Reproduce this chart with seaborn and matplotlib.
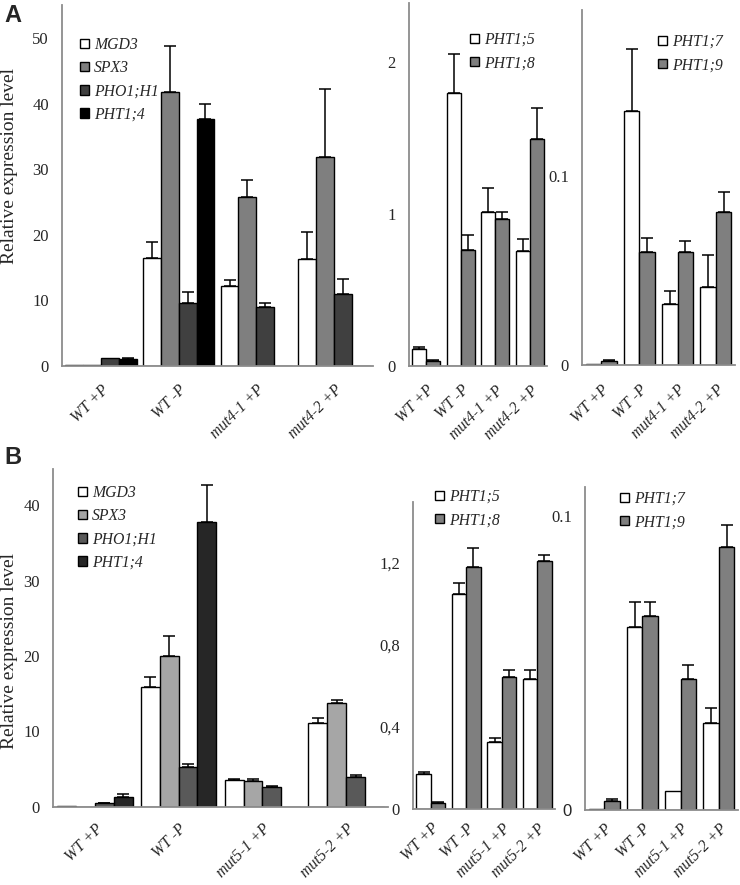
import numpy as np
import pandas as pd
import matplotlib
matplotlib.use('Agg')
import matplotlib.pyplot as plt
from matplotlib.container import BarContainer
import seaborn as sns

sns.set_style('white')
plt.rcParams['font.family'] = ['Liberation Serif', 'DejaVu Serif']

# ---------------- data ----------------
genotypes_A = ['WT +P', 'WT -P', 'mut4-1 +P', 'mut4-2 +P']
genotypes_B = ['WT +P', 'WT -P', 'mut5-1 +P', 'mut5-2 +P']

genes_left = ['MGD3', 'SPX3', 'PHO1;H1', 'PHT1;4']
genes_mid = ['PHT1;5', 'PHT1;8']
genes_right = ['PHT1;7', 'PHT1;9']

# Panel A – left
A_MGD3 = [0.1, 16.4, 12.2, 16.3]
A_MGD3_err = [0, 2.5, 0.9, 4.1]
A_SPX3 = [0.05, 41.8, 25.8, 31.8]
A_SPX3_err = [0, 7.0, 2.5, 10.5]
A_PHO1 = [1.2, 9.6, 8.9, 10.9]
A_PHO1_err = [0, 1.7, 0.6, 2.3]
A_PHT14 = [1.0, 37.6, 0.0, 0.0]
A_PHT14_err = [0.1, 2.4, 0, 0]
# Panel A – middle
A_PHT15 = [0.108, 1.80, 1.011, 0.756]
A_PHT15_err = [0.017, 0.255, 0.158, 0.077]
A_PHT18 = [0.031, 0.763, 0.967, 1.492]
A_PHT18_err = [0.006, 0.099, 0.044, 0.208]
# Panel A – right
A_PHT17 = [0.0003, 0.1346, 0.0321, 0.0414]
A_PHT17_err = [0, 0.0328, 0.0071, 0.0168]
A_PHT19 = [0.0021, 0.0596, 0.0600, 0.0811]
A_PHT19_err = [0.0004, 0.0078, 0.0056, 0.0104]

# Panel B – left
B_MGD3 = [0.1, 15.86, 3.54, 11.16]
B_MGD3_err = [0, 1.28, 0.18, 0.58]
B_SPX3 = [0.02, 20.02, 3.46, 13.78]
B_SPX3_err = [0, 2.57, 0.17, 0.39]
B_PHO1 = [0.44, 5.32, 2.57, 3.99]
B_PHO1_err = [0.05, 0.35, 0.22, 0.17]
B_PHT14 = [1.24, 37.78, 0.0, 0.0]
B_PHT14_err = [0.4, 4.88, 0, 0]
# Panel B – middle
B_PHT15 = [0.170, 1.049, 0.329, 0.635]
B_PHT15_err = [0.013, 0.052, 0.019, 0.045]
B_PHT18 = [0.032, 1.179, 0.645, 1.208]
B_PHT18_err = [0.004, 0.092, 0.035, 0.031]
# Panel B – right
B_PHT17 = [0.0002, 0.0622, 0.00645, 0.0294]
B_PHT17_err = [0, 0.0083, 0, 0.0053]
B_PHT19 = [0.00305, 0.0658, 0.0446, 0.0894]
B_PHT19_err = [0.0008, 0.0047, 0.0045, 0.0074]

colors_A_left = ['#ffffff', '#7f7f7f', '#404040', '#000000']
colors_B_left = ['#ffffff', '#a6a6a6', '#595959', '#262626']
colors_pair = ['#ffffff', '#7f7f7f']

W, H = 740, 885
fig = plt.figure(figsize=(W / 100, H / 100), dpi=100)
AXIS_GRAY = '#8c8c8c'


def add_axes(x0, x1, ytop, ybot):
    return fig.add_axes([x0 / W, 1 - ybot / H, (x1 - x0) / W, (ybot - ytop) / H])


def panel(ax, genotypes, genes, values, errors, colors, width, ymax,
          yticks, yticklabels, leg_x, leg_top, xpad=12):
    rows = []
    for g, vals in zip(genes, values):
        for gt, v in zip(genotypes, vals):
            rows.append({'genotype': gt, 'gene': g, 'value': v})
    df = pd.DataFrame(rows)
    sns.barplot(data=df, x='genotype', y='value', hue='gene', order=genotypes,
                hue_order=genes, palette=colors, saturation=1, edgecolor='black',
                linewidth=1.0, width=width, errorbar=None, legend=False, ax=ax)
    bar_conts = [c for c in ax.containers if isinstance(c, BarContainer)]
    for cont, err in zip(bar_conts, errors):
        xs, ys, es = [], [], []
        for p, e in zip(cont.patches, err):
            if e > 0:
                xs.append(p.get_x() + p.get_width() / 2)
                ys.append(p.get_height())
                es.append(e)
        if xs:
            ax.errorbar(xs, ys, yerr=[np.zeros(len(es)), es], fmt='none',
                        ecolor='black', elinewidth=1.1, capsize=4, capthick=1.1,
                        zorder=4)
    ax.set_xlim(-0.5, len(genotypes) - 0.5)
    ax.set_ylim(0, ymax)
    ax.set_yticks(yticks)
    ax.set_yticklabels(yticklabels)
    ax.set_xlabel('')
    ax.set_ylabel('')
    sns.despine(ax=ax)
    for s in ('left', 'bottom'):
        ax.spines[s].set_color(AXIS_GRAY)
        ax.spines[s].set_linewidth(1.3)
    ax.tick_params(axis='y', length=3, width=1, color=AXIS_GRAY, pad=6.5,
                   labelsize=12)
    ax.tick_params(axis='x', length=0, pad=xpad, labelsize=11.3)
    for lab in ax.get_xticklabels():
        lab.set_rotation(45)
        lab.set_ha('right')
        lab.set_va('top')
        lab.set_rotation_mode('anchor')
        lab.set_fontstyle('italic')
    handles = [c.patches[0] for c in bar_conts]
    leg = ax.legend(handles, genes, loc='upper left',
                    bbox_to_anchor=(leg_x / W, 1 - leg_top / H),
                    bbox_transform=fig.transFigure, frameon=False,
                    borderaxespad=0, borderpad=0, handlelength=0.55,
                    handleheight=0.55, handletextpad=0.35, labelspacing=0.46,
                    fontsize=11.3)
    for t in leg.get_texts():
        t.set_fontstyle('italic')
    return ax


# ---- Panel A ----
axA1 = add_axes(62, 373, 5, 365.5)
panel(axA1, genotypes_A, genes_left, [A_MGD3, A_SPX3, A_PHO1, A_PHT14],
      [A_MGD3_err, A_SPX3_err, A_PHO1_err, A_PHT14_err], colors_A_left, 0.92,
      55.1, [0, 10, 20, 30, 40, 50], ['0', '10', '20', '30', '40', '50'], 80, 37)
axA1.set_ylabel('Relative expression level', fontsize=14)
axA1.yaxis.set_label_coords(18 / W, 1 - 166 / H, transform=fig.transFigure)

axA2 = add_axes(409, 547, 3, 365.7)
panel(axA2, genotypes_A, genes_mid, [A_PHT15, A_PHT18],
      [A_PHT15_err, A_PHT18_err], colors_pair, 0.81, 2.39,
      [0, 1, 2], ['0', '1', '2'], 470, 32)

axA3 = add_axes(582, 735, 10, 365)
panel(axA3, genotypes_A, genes_right, [A_PHT17, A_PHT19],
      [A_PHT17_err, A_PHT19_err], colors_pair, 0.81, 0.188,
      [0, 0.1], ['0', '0.1'], 658, 34)

# ---- Panel B ----
axB1 = add_axes(53, 388, 469, 806.7)
panel(axB1, genotypes_B, genes_left, [B_MGD3, B_SPX3, B_PHO1, B_PHT14],
      [B_MGD3_err, B_SPX3_err, B_PHO1_err, B_PHT14_err], colors_B_left, 0.90,
      44.8, [0, 10, 20, 30, 40], ['0', '10', '20', '30', '40'], 78, 485,
      xpad=10)
axB1.set_ylabel('Relative expression level', fontsize=14)
axB1.yaxis.set_label_coords(18 / W, 1 - 651 / H, transform=fig.transFigure)

axB2 = add_axes(413, 555, 502, 809.3)
panel(axB2, genotypes_B, genes_mid, [B_PHT15, B_PHT18],
      [B_PHT15_err, B_PHT18_err], colors_pair, 0.81, 1.495,
      [0, 0.4, 0.8, 1.2], ['0', '0,4', '0,8', '1,2'], 435, 489, xpad=8)

axB3 = add_axes(585, 738, 487, 810)
panel(axB3, genotypes_B, genes_right, [B_PHT17, B_PHT19],
      [B_PHT17_err, B_PHT19_err], colors_pair, 0.81, 0.1097,
      [0, 0.05, 0.1], ['0', '', '0.1'], 620, 491, xpad=8)
axB3.get_yticklabels()[0].set_family(['Liberation Sans', 'DejaVu Sans'])

fig.text(4 / W, 1 - 4 / H, 'A', fontsize=17, fontweight='bold',
         family=['Liberation Sans', 'DejaVu Sans'], ha='left', va='top')
fig.text(4 / W, 1 - 446 / H, 'B', fontsize=17, fontweight='bold',
         family=['Liberation Sans', 'DejaVu Sans'], ha='left', va='top')

fig.savefig('out.png', dpi=100)
